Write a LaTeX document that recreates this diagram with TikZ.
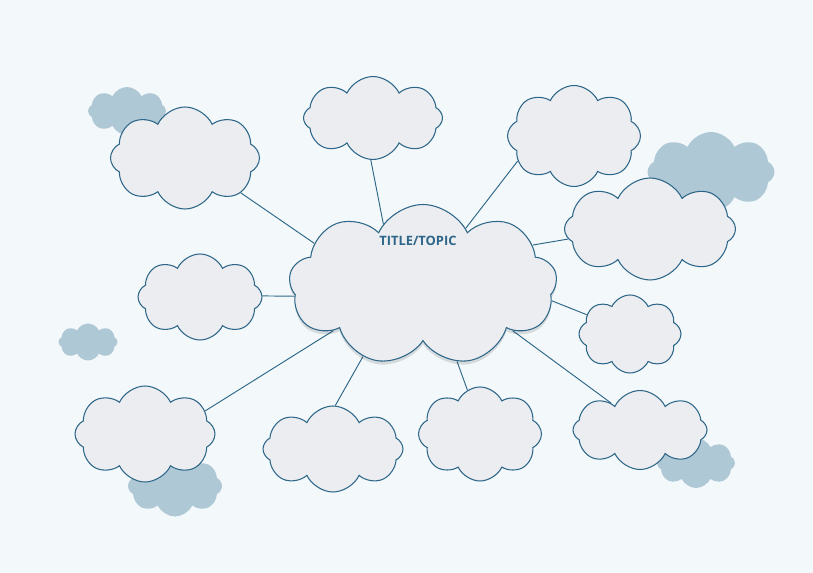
\documentclass[tikz,border=0pt]{standalone}
\usepackage{fontspec}
\setsansfont{Open Sans}
\usepackage{tikz}
\usetikzlibrary{shapes.symbols, shadows}
\definecolor{pagebg}{HTML}{F3F9FB}
\definecolor{cloudfill}{HTML}{ECEDF1}
\definecolor{cloudline}{HTML}{2D6688}
\definecolor{backcloud}{HTML}{AFC8D5}
\pgfdeclarelayer{paper}
\pgfdeclarelayer{links}
\pgfsetlayers{paper,links,main}

\begin{document}
\begin{tikzpicture} [x = 0.03cm, y = -0.03cm,
			idea/.style 2 args = {cloud, cloud puffs = 8, cloud puff arc = 130,
				cloud ignores aspect, draw = cloudline, fill = cloudfill,
				line width = 0.9pt, inner sep = 0pt,
				minimum width = #1*0.03cm, minimum height = #2*0.03cm},
			puff/.style 2 args = {cloud, cloud puffs = 8, cloud puff arc = 130,
				cloud ignores aspect, fill = backcloud, inner sep = 0pt,
				minimum width = #1*0.03cm, minimum height = #2*0.03cm},
			link/.style = {draw = cloudline, line width = 0.8pt},
			titletext/.style = {font = \sffamily\bfseries\fontsize{11}{13}\selectfont,
				text = cloudline}
			]
			\begin{pgfonlayer}{paper}
				\fill [pagebg] (0,0) rectangle (813,573);
				% Background clouds
				\node (b1) [puff = {78}{48}] at (127,111) {};
				\node (b2) [puff = {127}{80}] at (711,172) {};
				\node (b3) [puff = {59}{37}] at (88,342) {};
				\node (b4) [puff = {94}{61}] at (175,486) {};
				\node (b5) [puff = {78}{50}] at (696,463) {};
			\end{pgfonlayer}
			% Clouds
			\node (main) [idea = {268}{161}, cloud puffs = 9,
				drop shadow = {shadow xshift = 0pt, shadow yshift = -3pt,
					fill = black, opacity = 0.12}] at (423,285) {};
			\node (title) [titletext] at (418,241) {TITLE/TOPIC};
			\node (top) [idea = {139}{83}] at (373,118) {};
			\node (topleft) [idea = {149}{102}] at (185,158) {};
			\node (topright) [idea = {133}{101}] at (574,136) {};
			\node (right) [idea = {171}{102}] at (650,229) {};
			\node (left) [idea = {124}{86}] at (200,297) {};
			\node (rightsmall) [idea = {102}{78}] at (630,334) {};
			\node (botleft) [idea = {140}{96}] at (145,434) {};
			\node (botmidleft) [idea = {140}{86}] at (333,449) {};
			\node (botmid) [idea = {123}{94}] at (480,434) {};
			\node (botright) [idea = {134}{79}] at (640,430) {};
			% Links
			\begin{pgfonlayer}{links}
				\path [link]
				(main.123) edge (top.267)
				(main.159) edge (topleft.328)
				(main.53) edge (topright.204)
				(main.20) edge (right.187)
				(main.185) edge (left.1)
				(main.353) edge (rightsmall.156)
				(main.207) edge (botleft.21)
				(main.230) edge (botmidleft.87)
				(main.294) edge (botmid.106)
				(main.333) edge (botright.137);
			\end{pgfonlayer}
		\end{tikzpicture}
\end{document}
